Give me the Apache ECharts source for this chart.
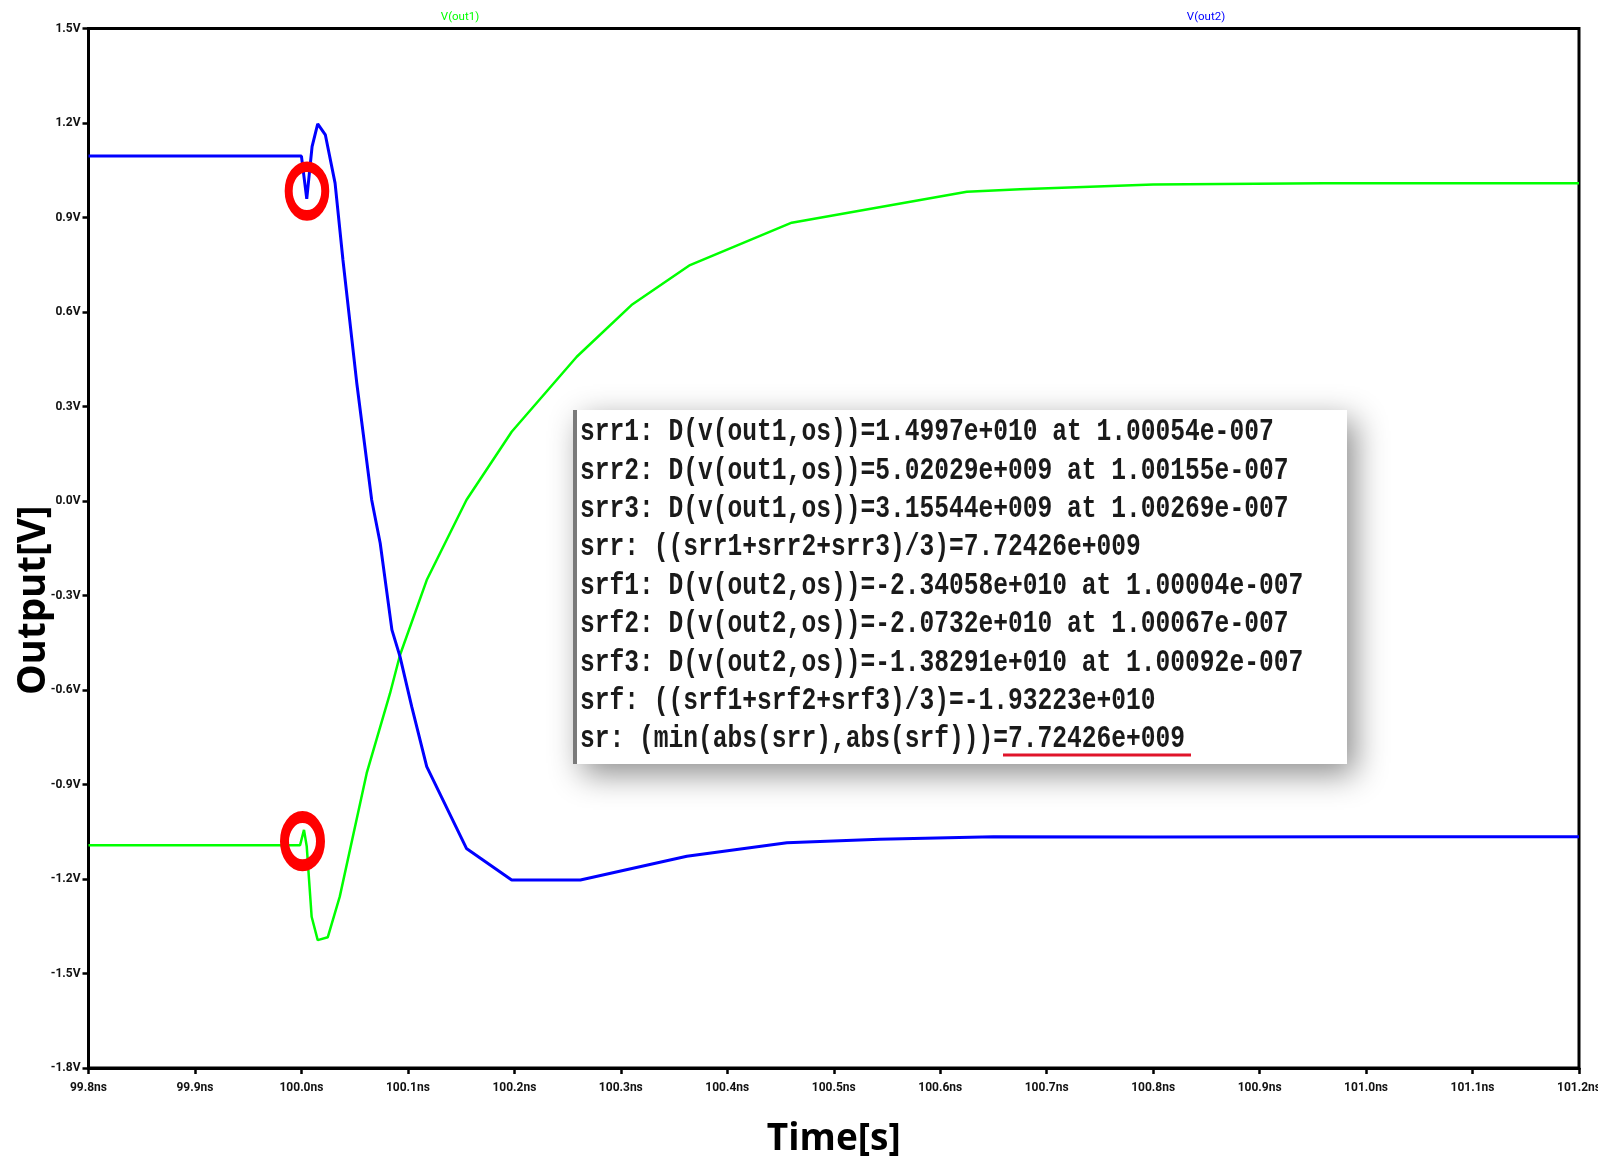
<!DOCTYPE html>
<html><head><meta charset="utf-8">
<script src="https://cdn.jsdelivr.net/npm/echarts@6/dist/echarts.min.js"></script>
<style>html,body{margin:0;padding:0;background:#fff}#c{width:1598px;height:1160px}</style>
</head><body><div id="c"></div>
<script>
// ---- data (time in ns, voltage in V) ----
const out1Time = [99.8, 99.9987, 100.0024, 100.005, 100.0096, 100.0153, 100.0247, 100.036, 100.0613, 100.0832, 100.0926, 100.1177, 100.155, 100.1975, 100.2586, 100.310, 100.365, 100.4605, 100.625, 100.675, 100.8, 100.96, 101.2];
const out1Volt = [-1.093, -1.093, -1.044, -1.097, -1.32, -1.394, -1.385, -1.256, -0.864, -0.611, -0.489, -0.251, 0.003, 0.22, 0.458, 0.622, 0.749, 0.8835, 0.982, 0.990, 1.005, 1.009, 1.009];
const out2Time = [99.8, 100.0, 100.005, 100.010, 100.0153, 100.0225, 100.0316, 100.039, 100.052, 100.066, 100.074, 100.085, 100.0926, 100.1036, 100.1177, 100.155, 100.1975, 100.262, 100.362, 100.456, 100.543, 100.65, 100.8, 101.0, 101.2];
const out2Volt = [1.095, 1.095, 0.959, 1.125, 1.197, 1.162, 1.009, 0.765, 0.374, 0.003, -0.134, -0.409, -0.494, -0.653, -0.843, -1.103, -1.203, -1.203, -1.128, -1.085, -1.074, -1.066, -1.067, -1.066, -1.066];
const seriesNames = ['V(out1)', 'V(out2)'];
const logLines = [
  'srr1: D(v(out1,os))=1.4997e+010 at 1.00054e-007',
  'srr2: D(v(out1,os))=5.02029e+009 at 1.00155e-007',
  'srr3: D(v(out1,os))=3.15544e+009 at 1.00269e-007',
  'srr: ((srr1+srr2+srr3)/3)=7.72426e+009',
  'srf1: D(v(out2,os))=-2.34058e+010 at 1.00004e-007',
  'srf2: D(v(out2,os))=-2.0732e+010 at 1.00067e-007',
  'srf3: D(v(out2,os))=-1.38291e+010 at 1.00092e-007',
  'srf: ((srf1+srf2+srf3)/3)=-1.93223e+010',
  'sr: (min(abs(srr),abs(srf)))=7.72426e+009'
];
// annotation circle centres (data coords)
const markOut2 = [100.0052, 0.984];
const markOut1 = [100.001, -1.080];

const pair = (t, v) => t.map((x, i) => [x, v[i]]);
const tickFont = "Roboto, 'Liberation Sans', sans-serif";

const chart = echarts.init(document.getElementById('c'));
const graphic = [
  {id:'lbl1', type:'text', x:460, y:17, z:50, style:{text:seriesNames[0], fill:'#00ff00', font:"11.5px " + tickFont, textAlign:'center', textVerticalAlign:'middle'}},
  {id:'lbl2', type:'text', x:1206, y:17, z:50, style:{text:seriesNames[1], fill:'#0000ff', font:"11.5px " + tickFont, textAlign:'center', textVerticalAlign:'middle'}},
  {id:'box', type:'rect', z:100, shape:{x:574, y:410, width:773, height:354}, style:{fill:'#ffffff', shadowBlur:30, shadowColor:'rgba(0,0,0,0.45)', shadowOffsetX:8, shadowOffsetY:10}},
  {id:'boxL', type:'rect', z:101, shape:{x:573, y:410, width:4, height:354}, style:{fill:'#7a7a7a'}},
  {id:'ul', type:'rect', z:102, shape:{x:1003, y:753.5, width:188, height:3}, style:{fill:'#e0142a'}}
];
logLines.forEach((s, i) => {
  graphic.push({id:'log'+i, type:'text', z:102, x:580, y:432.5 + i*38.4, scaleY:1.25,
    style:{text:s, fill:'#1a1a1a', font:"bold 24.6px 'Liberation Mono','DejaVu Sans Mono',monospace", textVerticalAlign:'middle'}});
});

chart.setOption({
  animation:false,
  backgroundColor:'#fff',
  grid:{left:88.5, right:19, top:28.5, bottom:92, outerBoundsMode:'none', containLabel:false,
    show:true, borderColor:'#000', borderWidth:3, backgroundColor:'transparent'},
  xAxis:{type:'value', min:99.8, max:101.2, interval:0.1,
    name:'Time[s]', nameLocation:'middle', nameGap:53, nameMoveOverlap:false,
    nameTextStyle:{fontFamily:'Open Sans', fontWeight:'bold', fontSize:37, color:'#000'},
    axisLine:{onZero:false, lineStyle:{color:'#000', width:3}},
    axisTick:{inside:false, length:6, lineStyle:{color:'#000', width:2.5}},
    axisLabel:{margin:14, fontFamily:tickFont, fontWeight:'bold', fontSize:12, color:'#111',
      formatter:v => v.toFixed(1) + 'ns'},
    splitLine:{show:false}},
  yAxis:{type:'value', min:-1.8, max:1.5, interval:0.3,
    name:'Output[V]', nameLocation:'middle', nameGap:35, nameRotate:90, nameMoveOverlap:false,
    nameTextStyle:{fontFamily:'Open Sans', fontWeight:'bold', fontSize:38.5, color:'#000', padding:[0,104,0,0]},
    axisLine:{onZero:false, lineStyle:{color:'#000', width:3}},
    axisTick:{inside:false, length:6, lineStyle:{color:'#000', width:2.5}},
    axisLabel:{margin:8, fontFamily:tickFont, fontWeight:'bold', fontSize:12, color:'#111',
      formatter:v => v.toFixed(1) + 'V'},
    splitLine:{show:false}},
  series:[
    {name:seriesNames[0], type:'line', data:pair(out1Time, out1Volt), showSymbol:false, symbol:'none',
      lineStyle:{color:'#00ff00', width:2.5}, z:3},
    {name:seriesNames[1], type:'line', data:pair(out2Time, out2Volt), showSymbol:false, symbol:'none',
      lineStyle:{color:'#0000ff', width:3}, z:4}
  ],
  graphic:graphic
});

const p2 = chart.convertToPixel({gridIndex:0}, markOut2);
const p1 = chart.convertToPixel({gridIndex:0}, markOut1);
chart.setOption({graphic:[
  {id:'ring2', type:'circle', z:60, x:p2[0], y:p2[1], scaleY:1.33, shape:{cx:0, cy:0, r:18.3}, style:{fill:'none', stroke:'#ff0000', lineWidth:8, strokeNoScale:true}},
  {id:'ring1', type:'circle', z:60, x:p1[0], y:p1[1], scaleY:1.34, shape:{cx:0, cy:0, r:18}, style:{fill:'none', stroke:'#ff0000', lineWidth:9, strokeNoScale:true}}
]});
</script>
</body></html>
